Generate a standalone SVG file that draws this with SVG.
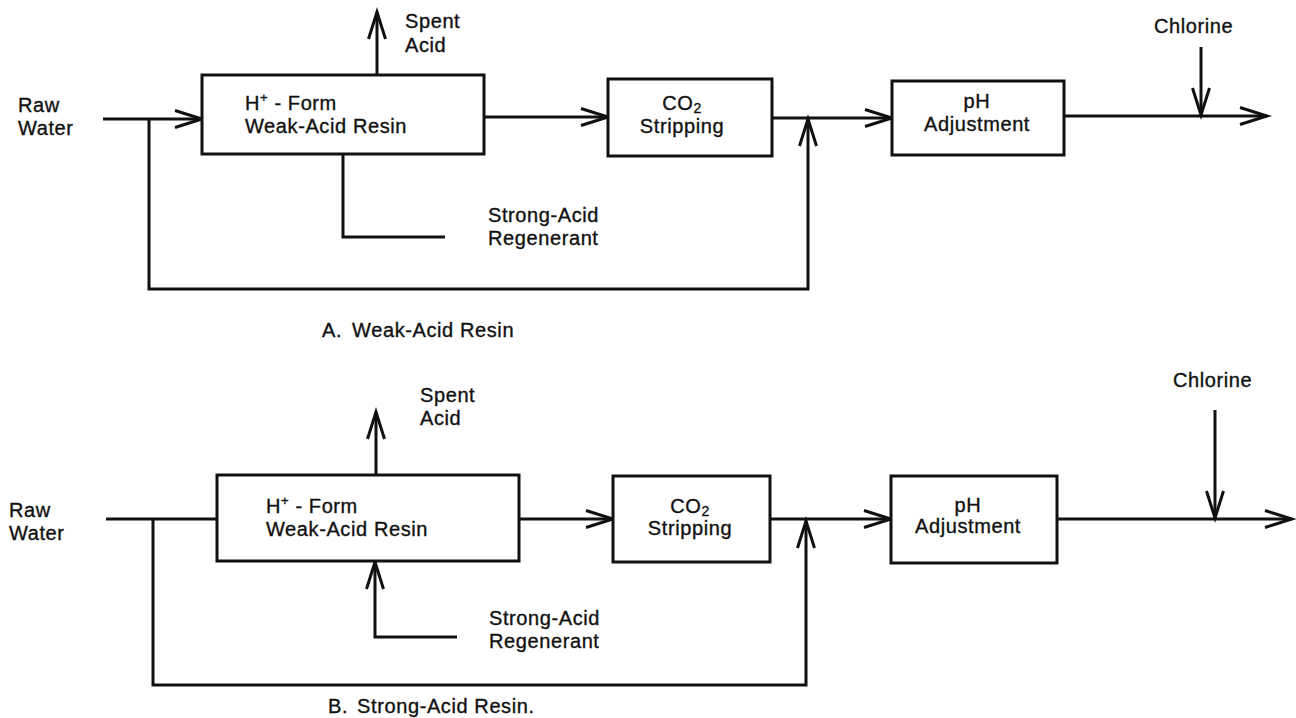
<svg xmlns="http://www.w3.org/2000/svg" width="1296" height="718" viewBox="0 0 1296 718">
<defs>
<style>
.t{font-family:"Liberation Sans",Arial,Helvetica,sans-serif;font-size:20px;letter-spacing:0.6px;fill:#111;stroke:#111;stroke-width:0.35px}
.c{text-anchor:middle}
.b{fill:#fff;stroke:#111;stroke-width:3}
.l{fill:none;stroke:#111;stroke-width:3;stroke-linejoin:miter}
.a{marker-end:url(#arr)}
</style>
<marker id="arr" markerUnits="userSpaceOnUse" markerWidth="32" markerHeight="22" viewBox="-30 -11 32 22" refX="0" refY="0" orient="auto" overflow="visible">
<path d="M-27,-8.5 L0,0 L-27,8.5" fill="none" stroke="#111" stroke-width="3"/>
</marker>
</defs>
<rect width="1296" height="718" fill="#fff"/>

<g id="connectors">
<!-- Diagram A -->
<path class="l a" d="M103,119 H202"/>
<path class="l a" d="M149,119 V289 H808 V119"/>
<path class="l a" d="M377,75 V12"/>
<path class="l" d="M343,154 V237 H445"/>
<path class="l a" d="M484,117 H608"/>
<path class="l a" d="M772,118 H892"/>
<path class="l a" d="M1064,116 H1267"/>
<path class="l a" d="M1201,47 V115"/>
<!-- Diagram B -->
<path class="l" d="M106,519 H217"/>
<path class="l a" d="M153,519 V685 H806 V521"/>
<path class="l a" d="M376,475 V412"/>
<path class="l a" d="M457,637 H375 V562"/>
<path class="l a" d="M519,519 H613"/>
<path class="l a" d="M770,519 H891"/>
<path class="l a" d="M1057,519 H1292"/>
<path class="l a" d="M1215,410 V518"/>
</g>

<g id="labelsA">
<text class="t" x="18" y="112">Raw</text>
<text class="t" x="18" y="135">Water</text>
<text class="t" x="405" y="28">Spent</text>
<text class="t" x="405" y="52">Acid</text>
<text class="t" x="488" y="222">Strong-Acid</text>
<text class="t" x="488" y="245">Regenerant</text>
<text class="t" x="1154" y="33">Chlorine</text>
<text class="t" x="322" y="337">A.<tspan dx="10">Weak-Acid Resin</tspan></text>
</g>

<g id="resinA">
<rect class="b" x="202" y="75" width="282" height="79"/>
<text class="t" x="245" y="110">H<tspan font-size="13" dy="-8">+</tspan><tspan dy="8"> - Form</tspan></text>
<text class="t" x="245" y="133">Weak-Acid Resin</text>
</g>
<g id="co2A">
<rect class="b" x="608" y="79" width="164" height="77"/>
<text class="t c" x="682" y="110">CO<tspan font-size="14" dy="3">2</tspan></text>
<text class="t c" x="682" y="133">Stripping</text>
</g>
<g id="phA">
<rect class="b" x="892" y="81" width="172" height="74"/>
<text class="t c" x="977" y="108">pH</text>
<text class="t c" x="977" y="131">Adjustment</text>
</g>

<g id="labelsB">
<text class="t" x="9" y="517">Raw</text>
<text class="t" x="9" y="540">Water</text>
<text class="t" x="420" y="402">Spent</text>
<text class="t" x="420" y="425">Acid</text>
<text class="t" x="489" y="625">Strong-Acid</text>
<text class="t" x="489" y="648">Regenerant</text>
<text class="t" x="1173" y="387">Chlorine</text>
<text class="t" x="328" y="713">B.<tspan dx="9">Strong-Acid Resin.</tspan></text>
</g>

<g id="resinB">
<rect class="b" x="217" y="475" width="302" height="86"/>
<text class="t" x="266" y="513">H<tspan font-size="13" dy="-8">+</tspan><tspan dy="8"> - Form</tspan></text>
<text class="t" x="266" y="536">Weak-Acid Resin</text>
</g>
<g id="co2B">
<rect class="b" x="613" y="476" width="157" height="86"/>
<text class="t c" x="690" y="513">CO<tspan font-size="14" dy="3">2</tspan></text>
<text class="t c" x="690" y="535">Stripping</text>
</g>
<g id="phB">
<rect class="b" x="891" y="476" width="166" height="87"/>
<text class="t c" x="968" y="512">pH</text>
<text class="t c" x="968" y="533">Adjustment</text>
</g>
</svg>
